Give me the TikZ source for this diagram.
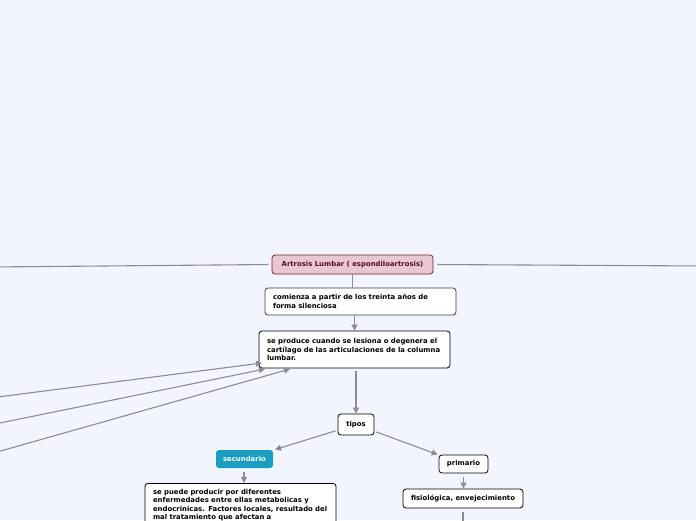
\documentclass[tikz,border=0pt]{standalone}
\usepackage{fontspec}
\setmainfont{DejaVu Sans}
\usetikzlibrary{arrows.meta,calc}
\definecolor{bg}{HTML}{F2F5FE}
\definecolor{conn}{HTML}{8C8C92}
\definecolor{mainfill}{HTML}{E8C8D0}
\definecolor{maindraw}{HTML}{7A1E36}
\definecolor{maintext}{HTML}{5C0A22}
\definecolor{secfill}{HTML}{1A9DC0}
\tikzset{
  box/.style={draw=black, line width=0.8pt, fill=white, rounded corners=3pt,
    font=\fontsize{6.9}{8.5}\selectfont\bfseries, inner sep=0pt, align=left},
  mainbox/.style={draw=maindraw, line width=0.8pt, fill=mainfill, rounded corners=3pt,
    text=maintext, font=\fontsize{6.9}{8}\selectfont\bfseries, inner sep=0pt, align=center},
  secbox/.style={draw=none, fill=secfill, rounded corners=3pt, text=white,
    font=\fontsize{6.9}{8}\selectfont\bfseries, inner sep=0pt, align=center},
  conline/.style={draw=conn, line width=1.1pt},
  arr/.style={conline, -{Triangle[length=6pt,width=6pt]}},
}
\begin{document}
\begin{tikzpicture}[x=1pt,y=-1pt]
\fill[bg] (0,0) rectangle (696,520);
\useasboundingbox (0,0) rectangle (696,520);
\clip (0,0) rectangle (696,520);

\node[mainbox, minimum width=161pt, minimum height=19pt] (main) at (352.5,264.5) {Artrosis Lumbar ( espondiloartrosis)};
\node[box, draw=black!75, minimum width=191pt, minimum height=27pt, text width=175pt] (cz) at (360.5,301.5)
  {comienza a partir de los treinta años de\\forma silenciosa};
\node[box, minimum width=191pt, minimum height=37pt, text width=175pt] (sp) at (354.5,349.5)
  {se produce cuando se lesiona o degenera el\\cartílago de las articulaciones de la columna\\lumbar.};
\node[box, minimum width=36pt, minimum height=21pt, align=center] (tipos) at (356,424.5) {tipos};
\node[secbox, minimum width=57pt, minimum height=18pt] (sec) at (244.5,459) {secundario};
\node[box, minimum width=191pt, text width=175pt, inner xsep=8pt, inner ysep=5.5pt, anchor=north] (spp) at (240.5,483)
  {se puede producir por diferentes\\enfermedades entre ellas metabolicas y\\endocrinicas. Factores locales, resultado del\\mal tratamiento que afectan a\\\vphantom{x}\\\vphantom{x}};
\node[box, minimum width=49pt, minimum height=18pt, align=center] (prim) at (463.5,464) {primario};
\node[box, minimum width=120pt, minimum height=19pt, align=center] (fis) at (463,498.5) {fisiológica, envejecimiento};

\coordinate (lft) at (-10,267);
\coordinate (rgt) at (706,266);
\coordinate (a1) at (-10,398);
\coordinate (a2) at (-10,425);
\coordinate (a3) at (-10,454);
\coordinate (e1) at (262,363);
\coordinate (e2) at (265,369);
\coordinate (e3) at (290,369);
\coordinate (fend) at (463,530);

\draw[conline, shorten >=3pt] (lft) -- (main.west);
\draw[conline, shorten <=4pt] (main.east) -- (rgt);
\draw[conline] (main.south) -- (main.south |- cz.north);
\draw[arr] (sp.north |- cz.south) -- (sp.north);
\draw[arr, shorten <=3pt] ([xshift=1.5pt]sp.south) -- ([xshift=1.5pt]sp.south |- tipos.north);
\draw[arr, shorten <=2pt, shorten >=2pt] (tipos) -- (sec);
\draw[arr, shorten <=2pt, shorten >=1pt] (tipos) -- (prim);
\draw[arr, shorten <=4pt] ([xshift=-0.5pt]sec.south) -- ([xshift=-0.5pt]sec.south |- spp.north);
\draw[arr, shorten <=4pt] (prim.south) -- (prim.south |- fis.north);
\draw[conline, shorten <=4pt] (fis.south) -- (fend);
\draw[arr] (a1) -- (e1);
\draw[arr] (a2) -- (e2);
\draw[arr] (a3) -- (e3);
\end{tikzpicture}
\end{document}
